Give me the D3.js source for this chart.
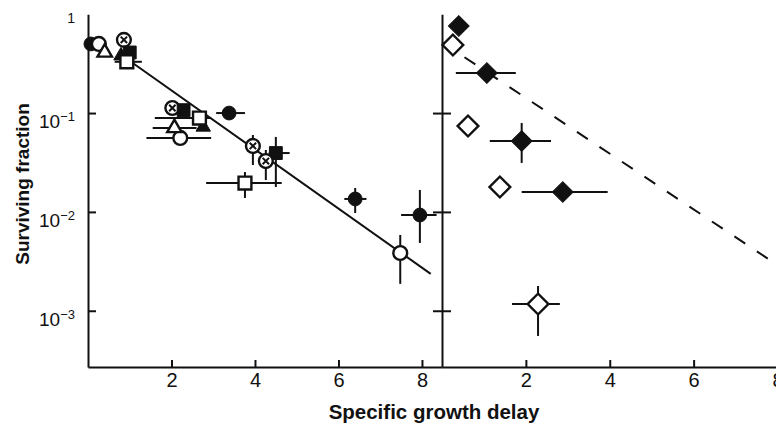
<!DOCTYPE html>
<html>
<head>
<meta charset="utf-8">
<script src="https://cdn.jsdelivr.net/npm/d3@7"></script>
<style>
  body { margin: 0; background: #fff; }
  svg { display: block; }
  text { font-family: "Liberation Sans", Arial, sans-serif; fill: #111; }
</style>
</head>
<body>
<svg id="chart" width="776" height="424"></svg>
<script>
// Surviving fraction vs specific growth delay, two panels on one log axis.

const yTicks = [1e-1, 1e-2, 1e-3];
const xTicks = [2, 4, 6, 8];

// shapes: fc/oc filled/open circle, xc crossed circle, fs/os square,
// ft/ot triangle, fd/od diamond. xe / ye are [low, high] error bars.
const leftPoints = [
  { s: 'fc', x: 0.07, y: 0.50 },
  { s: 'oc', x: 0.26, y: 0.50 },
  { s: 'ot', x: 0.40, y: 0.41 },
  { s: 'ft', x: 0.79, y: 0.38 },
  { s: 'xc', x: 0.86, y: 0.55 },
  { s: 'fs', x: 1.00, y: 0.41 },
  { s: 'os', x: 0.93, y: 0.33, xe: [0.64, 1.29] },
  { s: 'oc', x: 2.21, y: 0.056, xe: [1.40, 2.95] },
  { s: 'ot', x: 2.07, y: 0.0706, xe: [1.55, 2.60] },
  { s: 'ft', x: 2.76, y: 0.0723 },
  { s: 'xc', x: 2.02, y: 0.1125 },
  { s: 'fs', x: 2.29, y: 0.107 },
  { s: 'os', x: 2.67, y: 0.0891, xe: [1.60, 2.95] },
  { s: 'fc', x: 3.38, y: 0.100, xe: [3.07, 3.76] },
  { s: 'os', x: 3.76, y: 0.0196, xe: [2.83, 4.64], ye: [0.01383, 0.0253] },
  { s: 'xc', x: 3.95, y: 0.0465, ye: [0.0298, 0.060] },
  { s: 'fs', x: 4.50, y: 0.0394, xe: [4.33, 4.83], ye: [0.01786, 0.0573] },
  { s: 'xc', x: 4.26, y: 0.0327, ye: [0.0210, 0.0423] },
  { s: 'fc', x: 6.40, y: 0.01352, xe: [6.14, 6.67], ye: [0.00975, 0.01746] },
  { s: 'fc', x: 7.95, y: 0.0093, xe: [7.50, 8.35], ye: [0.00485, 0.01667] },
  { s: 'oc', x: 7.48, y: 0.00384, ye: [0.00187, 0.00584] }
];

const rightPoints = [
  { s: 'fd', x: 0.40, y: 0.76 },
  { s: 'od', x: 0.26, y: 0.488 },
  { s: 'fd', x: 1.07, y: 0.254, xe: [0.33, 1.76] },
  { s: 'od', x: 0.62, y: 0.074 },
  { s: 'fd', x: 1.90, y: 0.0521, xe: [1.14, 2.60], ye: [0.0313, 0.0794] },
  { s: 'od', x: 1.38, y: 0.01787 },
  { s: 'fd', x: 2.88, y: 0.0159, xe: [1.90, 3.95] },
  { s: 'od', x: 2.29, y: 0.00117, xe: [1.67, 2.81], ye: [0.000556, 0.00178] }
];

const fitLine = [[0.75, 0.40], [8.21, 0.00236]];
const dashLine = [[0, 0.52], [8, 0.0029]];

const ink = '#111';
const svg = d3.select('#chart');

const y = d3.scaleLog().domain([Math.pow(10, -3.569), 1]).range([367, 14.2]);
const xL = d3.scaleLinear().domain([0, 8.48]).range([88, 442]);
const xR = d3.scaleLinear().domain([0, 8]).range([442, 777.5]);

// ===== axes =====
const gyL = svg.append('g').attr('transform', `translate(${xL(0)},0)`)
  .call(d3.axisLeft(y).tickValues(yTicks).tickSizeInner(-8).tickSizeOuter(0).tickPadding(13)
    .tickFormat(() => ''));
gyL.selectAll('.tick text')
  .attr('dy', '0.78em')
  .style('font-size', '19px')
  .each(function (d) {
    const t = d3.select(this);
    t.append('tspan').text('10');
    t.append('tspan').text('\u2212' + Math.round(-Math.log10(d)))
      .attr('dy', '-0.55em').style('font-size', '13px');
  });
gyL.append('text')
  .attr('x', -13).attr('y', y(1)).attr('dy', '0.65em')
  .attr('text-anchor', 'end').style('font-size', '14px')
  .text('1');

const gyR = svg.append('g').attr('transform', `translate(${xR(0)},0)`)
  .call(d3.axisLeft(y).tickValues(yTicks).tickSizeInner(9).tickSizeOuter(0).tickFormat(''));
gyR.selectAll('.tick line').attr('x1', 9);

[xL, xR].forEach(sc => {
  const g = svg.append('g').attr('transform', `translate(0,${y.range()[0]})`)
    .call(d3.axisBottom(sc).tickValues(xTicks).tickSizeInner(-7).tickSizeOuter(0).tickPadding(6));
  g.selectAll('.tick text').style('font-size', '20px');
});

svg.selectAll('.domain, .tick line').attr('stroke', ink).attr('stroke-width', 2);

// titles
svg.append('text')
  .attr('x', 434).attr('y', 419)
  .attr('text-anchor', 'middle')
  .style('font-size', '20.5px').style('font-weight', 'bold')
  .text('Specific growth delay');

svg.append('text')
  .attr('transform', 'translate(29,184) rotate(-90)')
  .attr('text-anchor', 'middle')
  .style('font-size', '19px').style('font-weight', 'bold')
  .text('Surviving fraction');

// ===== lines =====
svg.append('path')
  .attr('d', d3.line().x(d => xL(d[0])).y(d => y(d[1]))(fitLine))
  .attr('fill', 'none').attr('stroke', ink).attr('stroke-width', 2);

svg.append('path')
  .attr('d', d3.line().x(d => xR(d[0])).y(d => y(d[1]))(dashLine))
  .attr('fill', 'none').attr('stroke', ink).attr('stroke-width', 2)
  .attr('stroke-dasharray', '13,14');

// ===== points =====
const symbolFor = {
  c: d3.symbol().type(d3.symbolCircle).size(150),
  s: d3.symbol().type(d3.symbolSquare).size(165),
  t: d3.symbol().type(d3.symbolTriangle).size(90),
  d: d3.symbol().type(d3.symbolSquare).size(215)
};

function drawPanel(points, x) {
  const bars = svg.append('g').attr('stroke', ink).attr('stroke-width', 2);
  points.filter(p => p.xe).forEach(p => {
    bars.append('line')
      .attr('x1', x(p.xe[0])).attr('x2', x(p.xe[1]))
      .attr('y1', y(p.y)).attr('y2', y(p.y));
  });
  points.filter(p => p.ye).forEach(p => {
    bars.append('line')
      .attr('x1', x(p.x)).attr('x2', x(p.x))
      .attr('y1', y(p.ye[0])).attr('y2', y(p.ye[1]));
  });

  const node = svg.append('g').selectAll('g')
    .data(points)
    .enter()
    .append('g')
    .attr('transform', d => `translate(${x(d.x)},${y(d.y)})`);

  node.append('path')
    .attr('d', d => symbolFor[d.s[1]]())
    .attr('transform', d => d.s[1] === 'd' ? 'rotate(45)' : null)
    .attr('fill', d => d.s[0] === 'f' ? ink : '#fff')
    .attr('stroke', ink)
    .attr('stroke-width', d => d.s[0] === 'f' ? 1 : 2.4);

  // the cross inside the crossed circles
  node.filter(d => d.s === 'xc').append('path')
    .attr('d', 'M-3.2,-3.2L3.2,3.2M-3.2,3.2L3.2,-3.2')
    .attr('stroke', ink).attr('stroke-width', 2);
}

drawPanel(leftPoints, xL);
drawPanel(rightPoints, xR);
</script>
</body>
</html>
